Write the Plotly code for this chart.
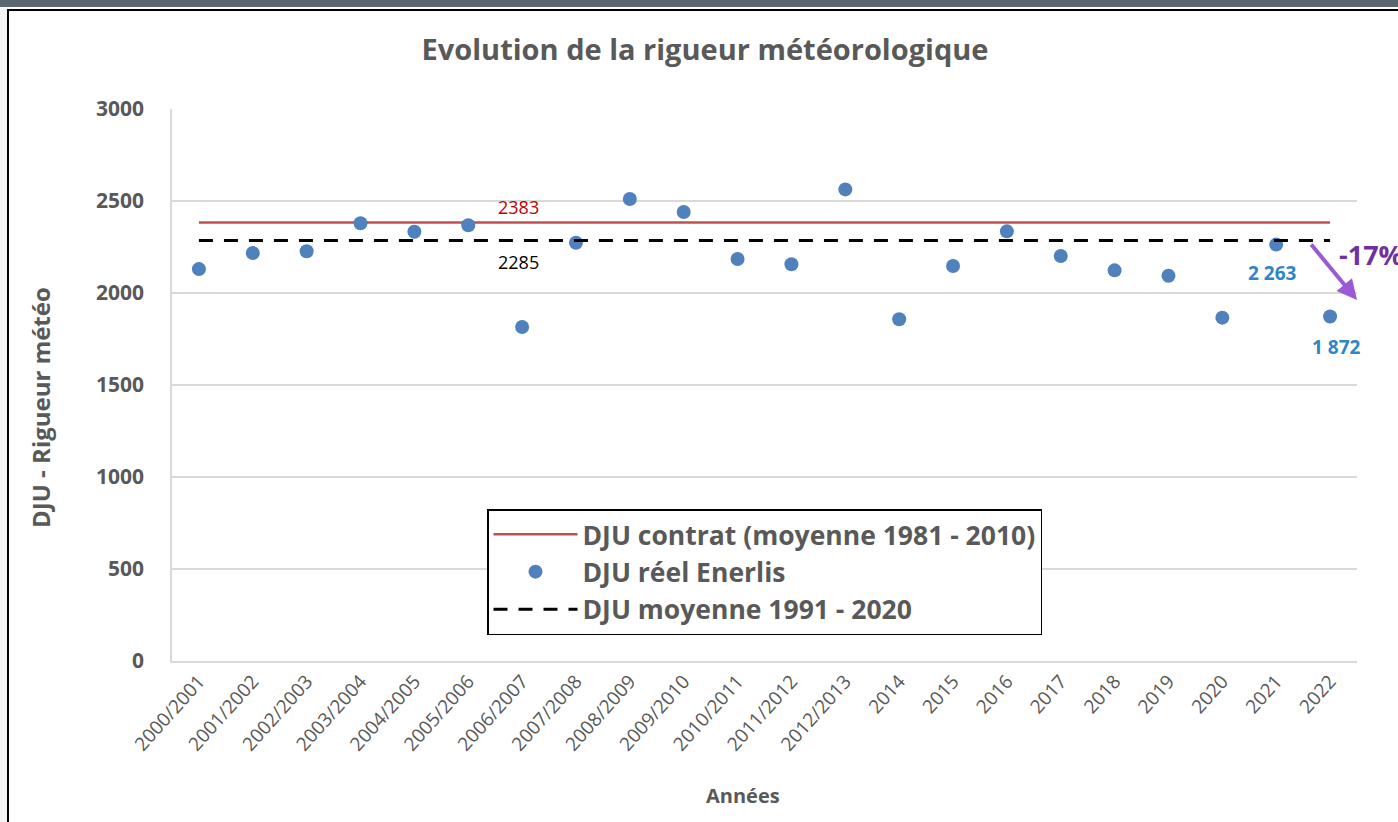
import plotly.graph_objects as go

# Heating seasons / years on the x axis
annees = ["2000/2001", "2001/2002", "2002/2003", "2003/2004", "2004/2005",
          "2005/2006", "2006/2007", "2007/2008", "2008/2009", "2009/2010",
          "2010/2011", "2011/2012", "2012/2013", "2014", "2015", "2016",
          "2017", "2018", "2019", "2020", "2021", "2022"]
# Observed degree-days (DJU réel Enerlis)
dju_reel = [2130, 2217, 2227, 2379, 2333, 2368, 1815, 2273, 2511, 2440,
            2185, 2156, 2563, 1857, 2147, 2335, 2201, 2123, 2094, 1866,
            2263, 1872]
# Reference averages
dju_contrat = 2383
dju_moy_1991_2020 = 2285
variation = "-17%"

W, H = 1398, 822
L, R, T, B = 172, 1357, 109, 661
FONT = "Open Sans"
GREY = "#595959"


def px(x):
    return (x - L) / (R - L)


def py(y):
    return (B - y) / (B - T)


fig = go.Figure()
fig.add_trace(go.Scatter(
    x=annees, y=[dju_contrat] * len(annees), mode="lines",
    name="DJU contrat (moyenne 1981 - 2010)",
    line=dict(color="#c0504d", width=2.5)))
fig.add_trace(go.Scatter(
    x=annees, y=dju_reel, mode="markers", name="DJU réel Enerlis",
    marker=dict(color="#4f81bd", size=14)))
fig.add_trace(go.Scatter(
    x=annees, y=[dju_moy_1991_2020] * len(annees), mode="lines",
    name="DJU moyenne 1991 - 2020",
    line=dict(color="black", width=3, dash="14px,11px")))

# category positions are given by index so that year-like labels
# are not read as numbers
i_ref, i_2021, i_2022 = 6, annees.index("2021"), annees.index("2022")
ann = [
    dict(x=i_ref, y=dju_contrat, text=str(dju_contrat), showarrow=False,
         xshift=-4, yshift=16, font=dict(color="#c00000", size=18, family=FONT)),
    dict(x=i_ref, y=dju_moy_1991_2020, text=str(dju_moy_1991_2020),
         showarrow=False, xshift=-4, yshift=-21,
         font=dict(color="black", size=18, family=FONT)),
    dict(x=i_2021, y=dju_reel[i_2021], text="2 263", showarrow=False,
         xshift=-4, yshift=-28,
         font=dict(color="#2e86c8", size=19, family=FONT, weight="bold")),
    dict(x=i_2022, y=dju_reel[i_2022], text="1 872", showarrow=False,
         xshift=6, yshift=-30,
         font=dict(color="#2e86c8", size=19, family=FONT, weight="bold")),
    # purple arrow showing the drop
    dict(x=px(1357), y=py(300), xref="paper", yref="paper",
         ax=-47, ay=-57, showarrow=True, arrowhead=2, arrowsize=1,
         arrowwidth=4, arrowcolor="#9b59d6", text=""),
    dict(x=px(1337), y=py(255), xref="paper", yref="paper", text=variation,
         showarrow=False, xanchor="left", yanchor="middle",
         font=dict(color="#7030a0", size=27, family=FONT, weight="bold")),
    # axis titles
    dict(x=px(40), y=py(408), xref="paper", yref="paper",
         text="DJU - Rigueur météo", textangle=-90, showarrow=False,
         xanchor="center", yanchor="middle",
         font=dict(size=24, family=FONT, color=GREY, weight="bold")),
    dict(x=px(743), y=py(795), xref="paper", yref="paper",
         text="Années", showarrow=False, xanchor="center", yanchor="middle",
         font=dict(size=20, family=FONT, color=GREY, weight="bold")),
]

shapes = [
    # dark strip along the top
    dict(type="rect", xref="paper", yref="paper", x0=px(-5), x1=px(W + 5),
         y0=py(7), y1=py(-5), fillcolor="#5b6770", line=dict(width=0),
         layer="below"),
    # frame lines
    dict(type="line", xref="paper", yref="paper", x0=px(7), x1=px(W + 5),
         y0=py(10), y1=py(10), line=dict(color="black", width=2)),
    dict(type="line", xref="paper", yref="paper", x0=px(8), x1=px(8),
         y0=py(10), y1=py(H + 5), line=dict(color="black", width=2)),
    dict(type="rect", xref="paper", yref="paper", x0=px(-5), x1=px(7),
         y0=py(H + 5), y1=py(7), fillcolor="#f3f4f5", line=dict(width=0),
         layer="below"),
]

fig.update_layout(
    width=W, height=H,
    margin=dict(l=L, r=W - R, t=T, b=H - B),
    paper_bgcolor="white", plot_bgcolor="white",
    font=dict(family=FONT, color=GREY),
    title=dict(text="Evolution de la rigueur météorologique",
               xref="container", x=705 / W, xanchor="center",
               y=1 - 50 / H, yanchor="middle",
               font=dict(size=29, family=FONT, color=GREY, weight="bold")),
    showlegend=True,
    legend=dict(x=px(487), y=py(509), xanchor="left", yanchor="top",
                bgcolor="white", bordercolor="black", borderwidth=1.5,
                font=dict(size=26.5, family=FONT, color=GREY, weight="bold"),
                itemwidth=84, tracegroupgap=0),
    annotations=ann, shapes=shapes,
)
fig.update_xaxes(
    type="category", range=[-0.5, len(annees) - 0.5],
    showline=True, linecolor="#d9d9d9", linewidth=1.5, showgrid=False,
    tickangle=-48, ticks="",
    tickfont=dict(size=19, family=FONT, color=GREY),
)
fig.update_yaxes(
    range=[0, 3000], dtick=500, showline=True, linecolor="#d9d9d9",
    linewidth=1.5, gridcolor="#d9d9d9", gridwidth=1.5, ticks="",
    ticklabelstandoff=22, zeroline=False,
    tickfont=dict(size=21, family=FONT, color=GREY, weight="bold"),
)

fig.write_html("out.html")
